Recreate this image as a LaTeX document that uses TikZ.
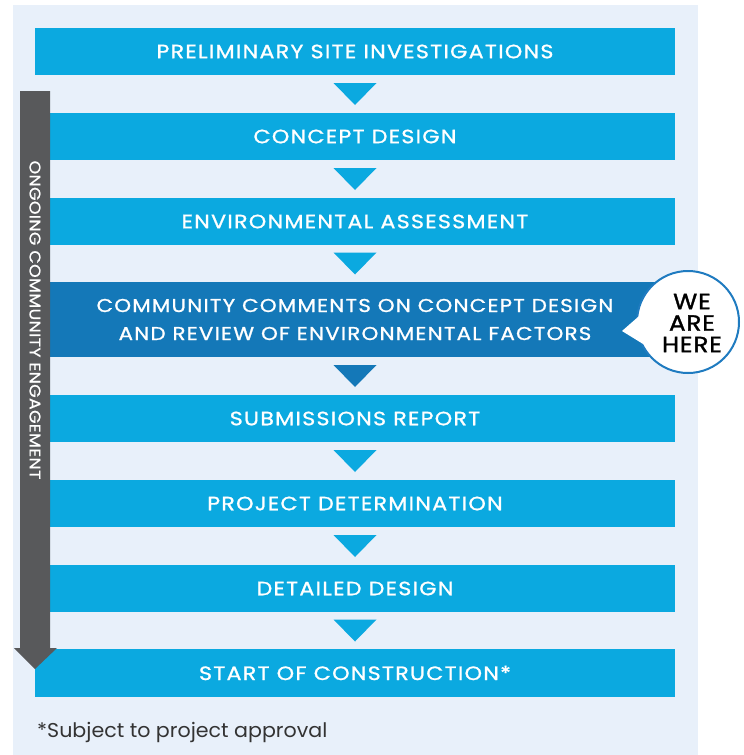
\documentclass[tikz,border=0pt]{standalone}
\usepackage{fontspec}
\setmainfont{Poppins}
\newfontfamily\boxfont[FakeStretch=1.15, LetterSpace=6.5, FakeBold=1.1]{Poppins}
\newfontfamily\vertfont[FakeStretch=1.12, LetterSpace=2, FakeBold=0.8]{Poppins}
\newfontfamily\herefont[FakeStretch=1.12, LetterSpace=4, FakeBold=1.4]{Poppins}
\newfontfamily\notefont[FakeStretch=1.03]{Poppins}
\usetikzlibrary{calc}
\definecolor{bgblue}{HTML}{E8F0FA}
\definecolor{boxblue}{HTML}{0BA9E0}
\definecolor{darkblue}{HTML}{1478B8}
\definecolor{greybar}{HTML}{58595B}
\definecolor{ringblue}{HTML}{1F7BC0}
\definecolor{footgrey}{HTML}{333333}
\begin{document}
\begin{tikzpicture}[x=1pt,y=-1pt,
  stage/.style={fill=boxblue, text=white, minimum width=640pt, minimum height=47pt,
    inner sep=0pt, font=\boxfont\fontsize{19.3}{28}\selectfont, align=center},
  tri/.style={fill=boxblue},
  darktri/.style={fill=darkblue}]
\useasboundingbox (0,0) rectangle (744,755);
\fill[bgblue] (13,5) rectangle (698,755);
\node[stage] (s1) at (355,51.5) {PRELIMINARY SITE INVESTIGATIONS};
\node[stage] (s2) at (355,136.5) {CONCEPT DESIGN};
\node[stage] (s3) at (355,221.5) {ENVIRONMENTAL ASSESSMENT};
\node[stage, fill=darkblue, minimum height=75pt, font=\boxfont\fontsize{18.6}{28}\selectfont] (s4) at (355,319.5)
  {COMMUNITY COMMENTS ON CONCEPT DESIGN\\AND REVIEW OF ENVIRONMENTAL FACTORS};
\node[stage] (s5) at (355,418.5) {SUBMISSIONS REPORT};
\node[stage] (s6) at (355,503.5) {PROJECT DETERMINATION};
\node[stage] (s7) at (355,588.5) {DETAILED DESIGN};
\node[stage, minimum height=48pt] (s8) at (355,673) {START OF CONSTRUCTION*};
\foreach \a/\b/\st in {s1/s2/tri, s2/s3/tri, s3/s4/tri, s4/s5/darktri, s5/s6/tri, s6/s7/tri, s7/s8/tri}{
  \coordinate (m) at ($(\a.south)!0.5!(\b.north)$);
  \fill[\st] ($(m)+(-21.5,-11)$) -- ($(m)+(21.5,-11)$) -- ($(m)+(0,11)$) -- cycle;
}
% ongoing engagement arrow
\coordinate (gtop) at (35,91);
\coordinate (gtip) at (35,669);
\fill[greybar] ($(gtop)+(-15,0)$) -- ($(gtop)+(15,0)$) -- ($(gtip)+(15,-21)$) -- ($(gtip)+(22,-21)$)
  -- (gtip) -- ($(gtip)+(-21,-21)$) -- ($(gtip)+(-15,-21)$) -- cycle;
\node[rotate=-90, text=white, inner sep=0pt, font=\vertfont\fontsize{15.5}{18}\selectfont] (eng) at (35,320)
  {ONGOING COMMUNITY ENGAGEMENT};
% we are here bubble
\node[circle, fill=white, draw=ringblue, line width=2pt, minimum size=102pt, inner sep=0pt] (here) at (688,322) {};
\fill[white] ($(here.center)+(-66,9)$) -- ($(here.center)+(-42,-12)$) -- ($(here.center)+(-40,25)$) -- cycle;
\node[align=center, inner sep=0pt, font=\herefont\fontsize{22}{21.5}\selectfont] (heretext) at ($(here.center)+(4,1)$) {WE\\ARE\\HERE};
\node[anchor=base west, inner sep=0pt, text=footgrey, font=\notefont\fontsize{20}{22}\selectfont] (note) at (37,737)
  {*Subject to project approval};
\end{tikzpicture}
\end{document}
